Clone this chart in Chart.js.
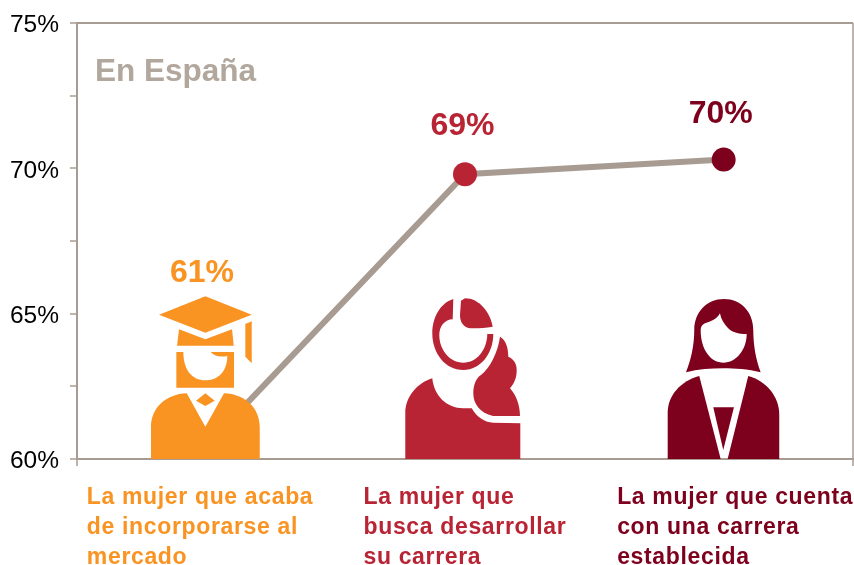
<!DOCTYPE html>
<html lang="es">
<head>
<meta charset="utf-8">
<style>html,body{margin:0;padding:0;background:#fff}#wrap{width:854px;height:565px;position:relative}</style>
<script src="https://cdn.jsdelivr.net/npm/chart.js@4"></script>
</head>
<body>
<div id="wrap"><canvas id="c" width="854" height="565"></canvas></div>
<script>
const categories = ["Acaba de incorporarse", "Busca desarrollar su carrera", "Carrera establecida"];
const seriesValues = [60.45, 69.8, 70.3];
const valueLabels = ["61%", "69%", "70%"];
const categoryLines = [
  ["La mujer que acaba", "de incorporarse al", "mercado"],
  ["La mujer que", "busca desarrollar", "su carrera"],
  ["La mujer que cuenta", "con una carrera", "establecida"]
];
const yTicks = [60, 62.5, 65, 67.5, 70, 72.5, 75];
const panelTitle = "En España";
const colors = ["#F99322", "#B92435", "#7D001C"];
const GREY = "#A89C92";
const FONT = '"Liberation Sans", Arial, sans-serif';

// pictograms, described in the frame of a plot whose baseline is y=459
const icons = [
  { ref: 206.3, shapes: [
    "M159 314.7 L205.3 296.3 L251.7 314.7 L205.3 332.7 Z",
    "M179 329.3 L205.3 339.3 L232 329.3 L233.7 345.7 L177 345.7 Z",
    "M245.3 324 L251.7 321.3 L251.7 363.3 L245.3 356.7 Z",
    "M176.3 352 L234 352 L234 387.7 L176.3 387.7 Z M183.3 352 L210.7 352 Q216 358 227.3 356 C227 372 218 380.3 205.3 380.3 C192 380.3 183.3 370 183.3 352 Z",
    "M151 459 L151 426.7 C151 408 166 394 186.7 393.3 L205.3 426.7 L224 393.3 C245 394 259.7 408 259.7 426.7 L259.7 459 Z",
    "M205.3 393.3 L214.7 400.7 L205.3 406 L196 400.7 Z"
  ]},
  { ref: 465, shapes: [
    "M453.3 299 C440 303 432.3 318 432.3 333.3 C432.3 353 445 370 463.3 370 C481 370 493.3 353 493.3 334 L487.3 334 C487 350 477 362.7 463.3 362.7 C450 362.7 439.3 350 439.3 335 C439.3 326 445 319.5 452.7 319.3 Z",
    "M461 300.7 L465 298.3 C479 298.3 490 312 492.7 326.7 C485 328 478 328.5 470 328.3 C463 327 460 322 460 315 Z",
    "M500 336.7 C506 340 508.3 348 508.3 356.7 C514 359 516.7 364 516.7 370 C516.7 378 514 384 510 388.3 C516 395 520 405 520 416 L493 416 C480 413 473.3 404 473.3 393.3 C473.3 385 476 378 481 375 C490 368 498 352 500 336.7 Z",
    "M405.3 459 L405.3 413.3 C405.3 397 417 383 432.3 378.3 C434 396 447 408.3 463.3 408.3 C466 408.3 469 408 471.7 408.3 C476 416 484 422.5 493.3 422.7 L520.3 423.3 L520.3 459 Z"
  ]},
  { ref: 723.7, shapes: [
    "M686 372.3 C691 360 694.3 345 694.3 330 C694.3 312 707 299 724 299 C741 299 753.3 312 753.3 330 C753.3 345 756 360 760.7 372.3 C748 369 735 368.3 723.3 368.3 C711 368.3 698 369 686 372.3 Z M700.7 330 C700.7 350 711 362.7 723.5 362.7 C736 362.7 746.7 350 746.7 334 C738 334 732 332 728 328 C724 324 721 319 720 313.3 C717 319 711 321.5 705 323.3 C702 325 700.7 327 700.7 330 Z",
    "M667.7 459 L667.7 413 C667.7 395 681 381 699.3 376 L720.7 459 Z",
    "M727.7 459 L748.3 376 C766 381 779.3 396 779.3 415 L779.3 459 Z",
    "M713.3 407.3 L734 407.3 L723.3 450 Z"
  ]}
];

const frame = {
  id: "frame",
  beforeDatasetsDraw(chart) {
    const { ctx, chartArea: a } = chart;
    ctx.save();
    ctx.strokeStyle = GREY;
    ctx.lineWidth = 1.5;
    ctx.beginPath();
    ctx.moveTo(a.right, a.top);
    ctx.lineTo(a.right, a.bottom + 7);
    ctx.moveTo(a.left, a.bottom);
    ctx.lineTo(a.left, a.bottom + 7);
    ctx.stroke();
    ctx.restore();
  }
};

const annotate = {
  id: "annotate",
  afterDatasetsDraw(chart) {
    const { ctx, scales: { x, y } } = chart;
    const base = y.getPixelForValue(60);
    ctx.save();
    icons.forEach((ic, i) => {
      ctx.save();
      ctx.translate(x.getPixelForTick(i) - ic.ref, base - 459);
      ctx.fillStyle = colors[i];
      ic.shapes.forEach(s => ctx.fill(new Path2D(s), "evenodd"));
      ctx.restore();
    });
    ctx.textBaseline = "alphabetic";
    ctx.textAlign = "center";
    ctx.font = "bold 32px " + FONT;
    // value labels: first sits above its pictogram, the others above their points
    const labelPos = [
      [-4.3, base - 177.3],
      [-2.5, y.getPixelForValue(seriesValues[1]) - 39],
      [-2.9, y.getPixelForValue(seriesValues[2]) - 36.7]
    ];
    valueLabels.forEach((t, i) => {
      ctx.fillStyle = colors[i];
      ctx.fillText(t, x.getPixelForTick(i) + labelPos[i][0], labelPos[i][1]);
    });
    // category captions, left aligned
    const capOffset = [-119.5, -101.5, -106.5];
    ctx.textAlign = "left";
    ctx.font = "bold 23px " + FONT;
    ctx.letterSpacing = "0.65px";
    categoryLines.forEach((lines, i) => {
      ctx.fillStyle = colors[i];
      lines.forEach((t, j) => ctx.fillText(t, x.getPixelForTick(i) + capOffset[i], base + 45.3 + j * 30));
    });
    ctx.letterSpacing = "0px";
    ctx.fillStyle = "#B1A79D";
    ctx.font = "bold 31.5px " + FONT;
    ctx.fillText(panelTitle, 95, 81);
    ctx.restore();
  }
};

new Chart(document.getElementById("c"), {
  type: "line",
  plugins: [frame, annotate],
  data: {
    labels: categories,
    datasets: [{
      data: seriesValues,
      borderColor: GREY,
      borderWidth: 6,
      tension: 0,
      pointRadius: 12,
      pointHoverRadius: 12,
      pointBorderWidth: 0,
      pointBackgroundColor: colors,
      clip: false
    }]
  },
  options: {
    responsive: false,
    animation: false,
    layout: { autoPadding: false, padding: { left: 0, right: 1, top: 23, bottom: 106 } },
    plugins: { legend: { display: false }, tooltip: { enabled: false }, title: { display: false } },
    scales: {
      x: {
        offset: true,
        ticks: { display: false },
        grid: { drawOnChartArea: false, drawTicks: false },
        border: { color: GREY, width: 2 }
      },
      y: {
        min: 60,
        max: 75,
        afterFit(s) { s.width = 77; s.paddingTop = 0; s.paddingBottom = 0; },
        afterBuildTicks(s) { s.ticks = yTicks.map(v => ({ value: v })); },
        border: { color: GREY, width: 2 },
        grid: {
          color: c => (c.tick && c.tick.value === 75 ? GREY : "rgba(0,0,0,0)"),
          lineWidth: 2,
          tickColor: GREY,
          tickLength: 7,
          tickWidth: 1.5
        },
        ticks: {
          color: "#000",
          padding: 11,
          labelOffset: 2.5,
          font: { family: FONT, size: 24.5 },
          callback: v => (v % 5 === 0 ? v + "%" : "")
        }
      }
    }
  }
});
</script>
</body>
</html>
